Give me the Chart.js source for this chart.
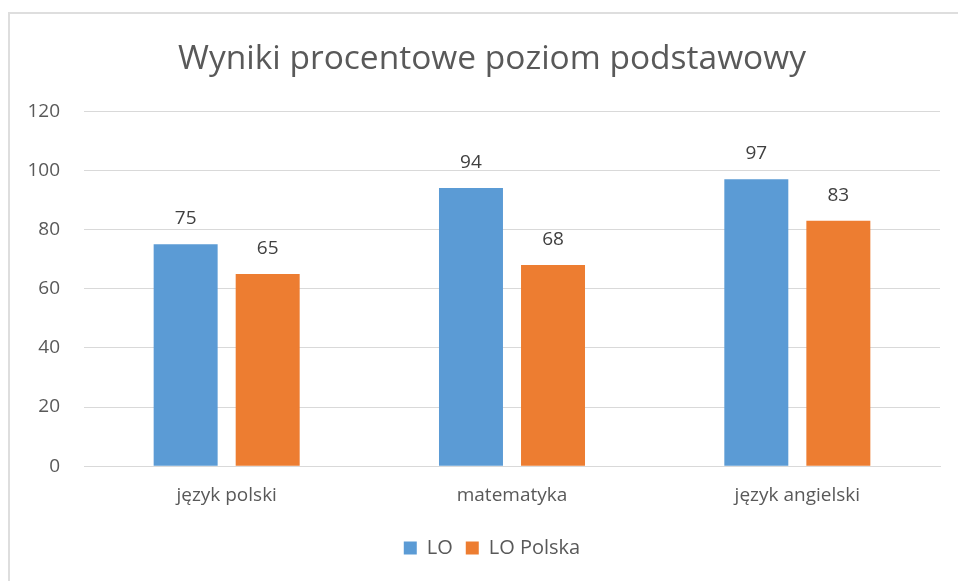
<!DOCTYPE html>
<html>
<head>
  <title>Wyniki procentowe</title>
  <script src="https://cdn.jsdelivr.net/npm/chart.js"></script>
  <style>
    body { margin: 0; background: #fff; overflow: hidden; }
    #frame {
      position: absolute; left: 8px; top: 12px;
      width: 1000px; height: 600px;
      border: 2px solid #dedede; box-sizing: border-box;
    }
    #wrap { position: absolute; left: 0; top: 0; width: 958px; height: 581px; }
  </style>
</head>
<body>
  <div id="frame"></div>
  <div id="wrap"><canvas id="chart"></canvas></div>

  <script>
    // dane wykresu
    const categories = ["język polski", "matematyka", "język angielski"];
    const loValues = [75, 94, 97];
    const polskaValues = [65, 68, 83];
    const yTicks = [0, 20, 40, 60, 80, 100, 120];

    const fontFamily = "'Open Sans', 'Noto Sans', sans-serif";
    const textColor = "#595959";

    // etykiety wartości nad słupkami
    const valueLabels = {
      id: "valueLabels",
      afterDatasetsDraw(chart) {
        const ctx = chart.ctx;
        ctx.save();
        ctx.font = "19px " + fontFamily;
        ctx.fillStyle = "#404040";
        ctx.textAlign = "center";
        ctx.textBaseline = "alphabetic";
        chart.data.datasets.forEach((ds, i) => {
          chart.getDatasetMeta(i).data.forEach((bar, j) => {
            ctx.fillText(ds.data[j], bar.x, bar.y - 20);
          });
        });
        ctx.restore();
      }
    };

    // tytuł i legenda wyśrodkowane względem ramki, nie całego płótna
    const shiftCenter = {
      id: "shiftCenter",
      afterLayout(chart) {
        if (chart.titleBlock) chart.titleBlock.left = 44;
        if (chart.legend) chart.legend.left = 44;
      }
    };

    const ctx = document.getElementById("chart").getContext("2d");
    new Chart(ctx, {
      type: "bar",
      data: {
        labels: categories,
        datasets: [
          {
            label: "LO",
            data: loValues,
            backgroundColor: "#5B9BD5",
            categoryPercentage: 0.575,
            barPercentage: 0.78
          },
          {
            label: "LO Polska",
            data: polskaValues,
            backgroundColor: "#ED7D31",
            categoryPercentage: 0.575,
            barPercentage: 0.78
          }
        ]
      },
      options: {
        responsive: true,
        maintainAspectRatio: false,
        animation: false,
        layout: { padding: { top: 39, left: 0, right: 18, bottom: 13 } },
        plugins: {
          title: {
            display: true,
            text: "Wyniki procentowe poziom podstawowy",
            color: textColor,
            font: { family: fontFamily, size: 33.5, weight: "normal" },
            padding: { top: 0, bottom: 32 }
          },
          legend: {
            position: "bottom",
            labels: {
              color: textColor,
              font: { family: fontFamily, size: 20 },
              boxWidth: 13,
              boxHeight: 13,
              padding: 13
            }
          },
          tooltip: { enabled: false }
        },
        scales: {
          x: {
            grid: { display: false, drawTicks: false },
            border: { display: true, color: "#d9d9d9" },
            ticks: {
              color: textColor,
              font: { family: fontFamily, size: 19 },
              padding: 18
            }
          },
          y: {
            min: 0,
            max: 120,
            afterFit(scale) { scale.width = 84; },
            afterBuildTicks(scale) { scale.ticks = yTicks.map(v => ({ value: v })); },
            grid: { color: "#d9d9d9", drawTicks: false },
            border: { display: false },
            ticks: {
              color: textColor,
              font: { family: fontFamily, size: 19 },
              padding: 24
            }
          }
        }
      },
      plugins: [valueLabels, shiftCenter]
    });
  </script>
</body>
</html>
